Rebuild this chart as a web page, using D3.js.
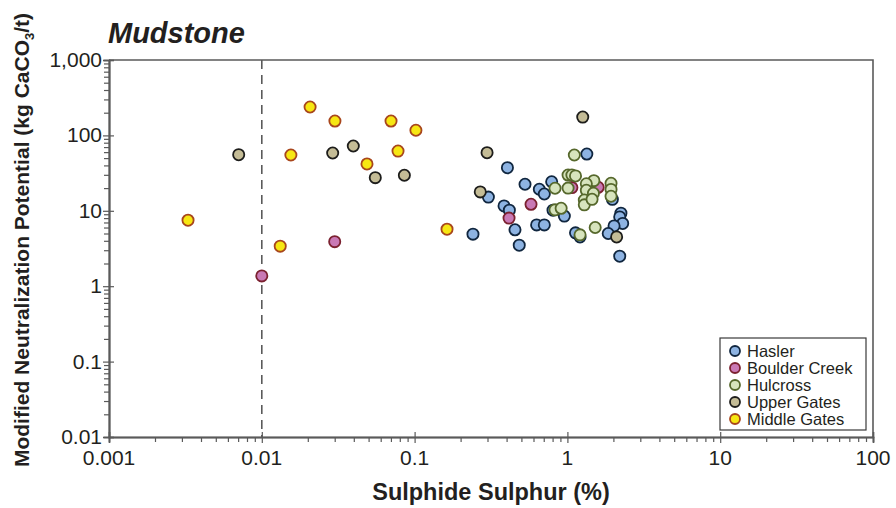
<!DOCTYPE html>
<html>
<head>
<meta charset="utf-8">
<script src="https://cdn.jsdelivr.net/npm/d3@7"></script>
<style>
  html, body { margin: 0; padding: 0; background: #fff; }
  svg { display: block; }
  text { font-family: "Liberation Sans", Arial, sans-serif; fill: #231f20; }
</style>
</head>
<body>
<svg id="chart" width="896" height="508"></svg>
<script>
// Sulphide sulphur (%) vs modified neutralization potential (kg CaCO3/t), mudstone samples
const seriesNames = ["Hasler", "Boulder Creek", "Hulcross", "Upper Gates", "Middle Gates"];

const hasler = [
  [0.405, 37.3], [0.528, 22.5], [0.304, 15.2], [0.385, 11.6], [0.417, 10.2],
  [0.241, 4.9], [0.454, 5.6], [0.484, 3.5], [0.655, 19.3], [0.706, 16.7],
  [0.789, 24.3], [0.629, 6.5], [0.706, 6.5], [0.955, 8.5], [0.805, 10.2],
  [1.34, 56.6], [1.13, 5.1], [1.21, 4.5], [2.24, 9.3], [2.20, 8.3],
  [2.30, 6.8], [2.02, 6.3], [1.85, 5.0], [2.20, 2.5], [1.97, 14.2]
];
const boulderCreek = [
  [0.0100, 1.37], [0.0300, 3.9], [0.415, 8.0], [0.578, 12.2], [1.07, 20.3], [1.59, 20.5]
];
const hulcross = [
  [1.11, 55], [1.01, 29.8], [1.07, 29.8], [1.13, 29.0], [0.83, 19.9],
  [1.01, 20.0], [1.49, 25.1], [1.33, 22.8], [1.33, 18.7], [1.48, 17.1],
  [1.29, 13.9], [1.29, 12.0], [1.45, 14.2], [1.93, 23.2], [1.93, 19.2],
  [1.93, 15.6], [0.83, 10.3], [0.91, 10.8], [1.52, 6.0], [1.21, 4.8]
];
const upperGates = [
  [0.00706, 55.5], [0.0291, 58.4], [0.0397, 72.3], [0.0553, 27.5], [0.0857, 29.6],
  [0.298, 59], [0.269, 17.8], [1.26, 175], [2.10, 4.5]
];
const middleGates = [
  [0.00329, 7.5], [0.0132, 3.4], [0.0155, 55], [0.0207, 238], [0.0301, 155],
  [0.0488, 41.8], [0.0701, 155], [0.0779, 62], [0.102, 117], [0.163, 5.7]
];

const xTickValues = [0.001, 0.01, 0.1, 1, 10, 100];
const xTickLabels = ["0.001", "0.01", "0.1", "1", "10", "100"];
const yTickValues = [0.01, 0.1, 1, 10, 100, 1000];
const yTickLabels = ["0.01", "0.1", "1", "10", "100", "1,000"];
const referenceS = 0.01;   // dashed guide at 0.01 % sulphide

const fills   = ["#8db3e2", "#c979b5", "#d7e4bd", "#c4bc96", "#f7e712"];
const strokes = ["#10263f", "#7b2130", "#56682c", "#1d1d1b", "#a8461c"];
const seriesData = [hasler, boulderCreek, hulcross, upperGates, middleGates];

const svg = d3.select("#chart");
const plotLeft = 109, plotRight = 873, plotTop = 60, plotBottom = 437;
const axisColor = "#5a5a5a";

const x = d3.scaleLog().domain([0.001, 100]).range([plotLeft, plotRight]);
const y = d3.scaleLog().domain([0.01, 1000]).range([plotBottom, plotTop]);

// minor tick positions (2..9 within each decade)
function minorTicks(lo, hi) {
  const out = [];
  for (let e = Math.round(Math.log10(lo)); e < Math.round(Math.log10(hi)); e++) {
    for (let m = 2; m <= 9; m++) out.push(m * Math.pow(10, e));
  }
  return out;
}

// frame (top and right)
svg.append("path")
  .attr("d", `M${plotLeft},${plotTop}H${plotRight}V${plotBottom}`)
  .attr("fill", "none").attr("stroke", axisColor).attr("stroke-width", 1.6);

// axes: outward minor ticks, major ticks crossing the axis line
function styleAxis(g) {
  g.selectAll(".domain").attr("stroke", axisColor).attr("stroke-width", 1.6);
  g.selectAll(".tick line").attr("stroke", axisColor).attr("stroke-width", 1.2);
  g.selectAll(".tick text").remove();
}

svg.append("g").attr("transform", `translate(0,${plotBottom})`)
  .call(d3.axisBottom(x).tickValues(minorTicks(0.001, 100)).tickSizeOuter(0).tickSize(5))
  .call(styleAxis);
svg.append("g").attr("transform", `translate(0,${plotBottom})`)
  .call(d3.axisBottom(x).tickValues(xTickValues).tickSizeOuter(0).tickSize(6))
  .call(styleAxis);
svg.append("g").attr("transform", `translate(0,${plotBottom})`)
  .call(d3.axisTop(x).tickValues(xTickValues).tickSizeOuter(0).tickSize(5))
  .call(styleAxis);

svg.append("g").attr("transform", `translate(${plotLeft},0)`)
  .call(d3.axisLeft(y).tickValues(minorTicks(0.01, 1000)).tickSizeOuter(0).tickSize(5))
  .call(styleAxis);
svg.append("g").attr("transform", `translate(${plotLeft},0)`)
  .call(d3.axisLeft(y).tickValues(yTickValues).tickSizeOuter(0).tickSize(6))
  .call(styleAxis);
svg.append("g").attr("transform", `translate(${plotLeft},0)`)
  .call(d3.axisRight(y).tickValues(yTickValues).tickSizeOuter(0).tickSize(5))
  .call(styleAxis);

// tick labels
svg.append("g").selectAll("text").data(xTickValues).join("text")
  .attr("x", d => x(d)).attr("y", plotBottom + 28)
  .attr("text-anchor", "middle").attr("font-size", 21)
  .text((d, i) => xTickLabels[i]);
svg.append("g").selectAll("text").data(yTickValues).join("text")
  .attr("x", plotLeft - 7).attr("y", d => y(d) + 7)
  .attr("text-anchor", "end").attr("font-size", 21)
  .text((d, i) => yTickLabels[i]);

// dashed guide
svg.append("line")
  .attr("x1", x(referenceS)).attr("x2", x(referenceS))
  .attr("y1", plotTop).attr("y2", plotBottom)
  .attr("stroke", axisColor).attr("stroke-width", 1.6)
  .attr("stroke-dasharray", "9,6");

// points, series drawn in order so later series sit on top
seriesData.forEach((data, i) => {
  svg.append("g").selectAll("circle").data(data).join("circle")
    .attr("cx", d => x(d[0])).attr("cy", d => y(d[1]))
    .attr("r", 5.6)
    .attr("fill", fills[i]).attr("stroke", strokes[i]).attr("stroke-width", 1.8);
});

// title
svg.append("text")
  .attr("x", 108).attr("y", 43)
  .attr("font-size", 29).attr("font-weight", "bold").attr("font-style", "italic")
  .text("Mudstone");

// axis titles
svg.append("text")
  .attr("x", (plotLeft + plotRight) / 2).attr("y", 500)
  .attr("text-anchor", "middle").attr("font-size", 23.5).attr("font-weight", "bold")
  .text("Sulphide Sulphur (%)");

const yTitle = svg.append("text")
  .attr("transform", "translate(29,240) rotate(-90)")
  .attr("text-anchor", "middle").attr("font-size", 21).attr("font-weight", "bold");
yTitle.append("tspan").text("Modified Neutralization Potential (kg CaCO");
yTitle.append("tspan").attr("font-size", 13).attr("dy", 5).text("3");
yTitle.append("tspan").attr("dy", -5).text("/t)");

// legend
const lg = svg.append("g").attr("transform", "translate(720,338)");
lg.append("rect").attr("width", 146).attr("height", 92)
  .attr("fill", "#fff").attr("stroke", "#3a3a3a").attr("stroke-width", 1.2);
seriesNames.forEach((name, i) => {
  const row = lg.append("g").attr("transform", `translate(0,${13 + i * 17})`);
  row.append("circle").attr("cx", 15).attr("cy", 0).attr("r", 5)
    .attr("fill", fills[i]).attr("stroke", strokes[i]).attr("stroke-width", 1.8);
  row.append("text").attr("x", 27).attr("y", 6).attr("font-size", 16.5).text(name);
});
</script>
</body>
</html>
